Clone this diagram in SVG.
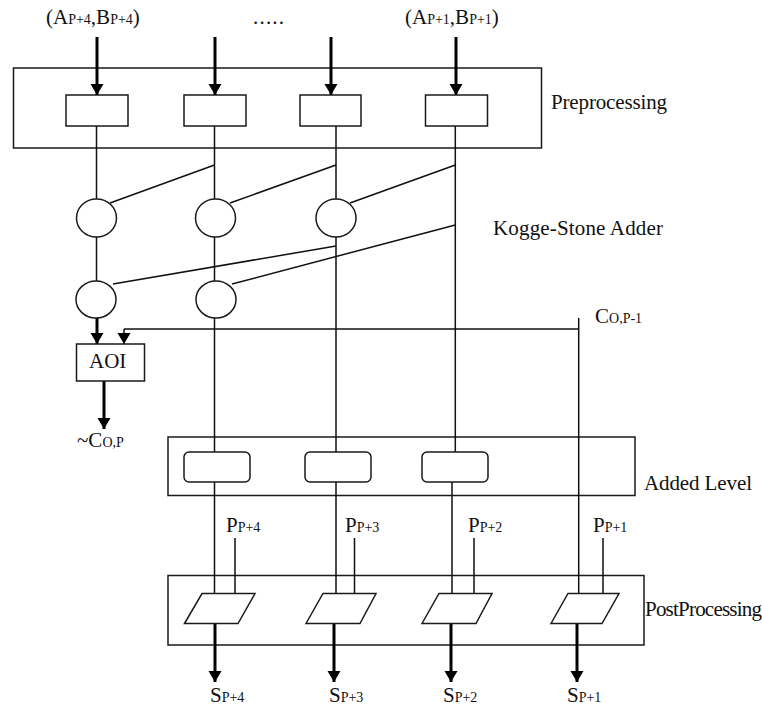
<svg xmlns="http://www.w3.org/2000/svg" width="762" height="709" viewBox="0 0 762 709">
<style>
.b{fill:#fff;stroke:#1a1a1a;stroke-width:1.5}
.o{fill:none;stroke:#1a1a1a;stroke-width:1.5}
.l{fill:none;stroke:#111;stroke-width:1.5}
.t{fill:none;stroke:#000;stroke-width:3}
text{font-family:"Liberation Serif","Times New Roman",serif;font-size:21px;fill:#111}
.s{font-size:14px}
</style>
<defs>
<marker id="a" markerUnits="userSpaceOnUse" markerWidth="14" markerHeight="14" refX="11" refY="6.500" orient="auto"><path d="M0 0L11 6.500L0 13Z" fill="#000"/></marker>
</defs>
<g id="preprocessing-box"><rect class="o" x="13.500" y="68" width="528" height="80"/></g>
<g id="added-level-box"><rect class="o" x="168" y="437" width="467" height="58.500"/></g>
<g id="postprocessing-box"><rect class="o" x="168" y="575.500" width="476" height="69.500"/></g>
<g id="connectors">
<path class="l" d="M96.500 126V199M96.500 237V281M214.500 126V199M214.500 237V281M214.500 318V452M214.500 482V593.500M336 126V199M336 237V452M336 482V593.500M455.300 126V452M452 482V593.500M578.700 318V593.500"/>
<path class="l" d="M110 203L214.500 165M230 203L336 165M350 203L455.300 165M113 284L336 246M232 284L455.300 225"/>
<path class="l" d="M578.700 329H124"/>
<path class="l" d="M235 538V593.500M354.500 538V593.500M474 538V593.500M603 538V593.500"/>
<path class="t" marker-end="url(#a)" d="M97 37V95"/>
<path class="t" marker-end="url(#a)" d="M215 37V95"/>
<path class="t" marker-end="url(#a)" d="M331 37V95"/>
<path class="t" marker-end="url(#a)" d="M456 37V95"/>
<path class="t" marker-end="url(#a)" d="M97 318V344"/>
<path class="l" marker-end="url(#a)" d="M124 329V344"/>
<path class="t" marker-end="url(#a)" d="M104 381V429"/>
<path class="t" marker-end="url(#a)" d="M215 623.500V682"/>
<path class="t" marker-end="url(#a)" d="M334 623.500V682"/>
<path class="t" marker-end="url(#a)" d="M451 623.500V682"/>
<path class="t" marker-end="url(#a)" d="M577 623.500V682"/>
</g>
<g id="pre-1"><rect class="b" x="66" y="95" width="62" height="31"/></g>
<g id="pre-2"><rect class="b" x="184" y="95" width="62" height="31"/></g>
<g id="pre-3"><rect class="b" x="300" y="95" width="61" height="31"/></g>
<g id="pre-4"><rect class="b" x="425.500" y="95" width="62" height="31"/></g>
<g id="ks-1"><ellipse class="b" cx="96.500" cy="218" rx="20" ry="19"/></g>
<g id="ks-2"><ellipse class="b" cx="215.500" cy="218" rx="20" ry="19"/></g>
<g id="ks-3"><ellipse class="b" cx="336" cy="218" rx="20" ry="19"/></g>
<g id="ks-4"><ellipse class="b" cx="96" cy="299.500" rx="20" ry="18.500"/></g>
<g id="ks-5"><ellipse class="b" cx="216" cy="299.500" rx="20" ry="18.500"/></g>
<g id="aoi"><rect class="b" x="76.500" y="344" width="68" height="37"/><text x="89" y="368">AOI</text></g>
<g id="add-1"><rect class="b" x="184" y="452" width="66" height="30" rx="5"/></g>
<g id="add-2"><rect class="b" x="305" y="452" width="66" height="30" rx="5"/></g>
<g id="add-3"><rect class="b" x="422" y="452" width="66" height="30" rx="5"/></g>
<g id="post-1"><path class="b" d="M184.500 623.500L202 593.500H255L238 623.500Z"/></g>
<g id="post-2"><path class="b" d="M306 623.500L323 593.500H376L360 623.500Z"/></g>
<g id="post-3"><path class="b" d="M422 623.500L439 593.500H492L476 623.500Z"/></g>
<g id="post-4"><path class="b" d="M551 623.500L568 593.500H619L602 623.500Z"/></g>
<g id="labels">
<text x="46" y="24">(A<tspan class="s">P+4</tspan>,B<tspan class="s">P+4</tspan>)</text>
<text x="253" y="24" textLength="31">.....</text>
<text x="405" y="24">(A<tspan class="s">P+1</tspan>,B<tspan class="s">P+1</tspan>)</text>
<text x="551" y="109" textLength="116">Preprocessing</text>
<text x="493" y="235" textLength="170">Kogge-Stone Adder</text>
<text x="595" y="323">C<tspan class="s">O,P-1</tspan></text>
<text x="77" y="447">~C<tspan class="s">O,P</tspan></text>
<text x="644" y="490" textLength="108">Added Level</text>
<text x="645" y="616" textLength="117">PostProcessing</text>
<text x="226" y="532">P<tspan class="s">P+4</tspan></text>
<text x="345" y="532">P<tspan class="s">P+3</tspan></text>
<text x="468" y="532">P<tspan class="s">P+2</tspan></text>
<text x="593" y="532">P<tspan class="s">P+1</tspan></text>
<text x="210" y="702">S<tspan class="s">P+4</tspan></text>
<text x="329" y="702">S<tspan class="s">P+3</tspan></text>
<text x="443" y="702">S<tspan class="s">P+2</tspan></text>
<text x="567" y="702">S<tspan class="s">P+1</tspan></text>
</g>
</svg>
